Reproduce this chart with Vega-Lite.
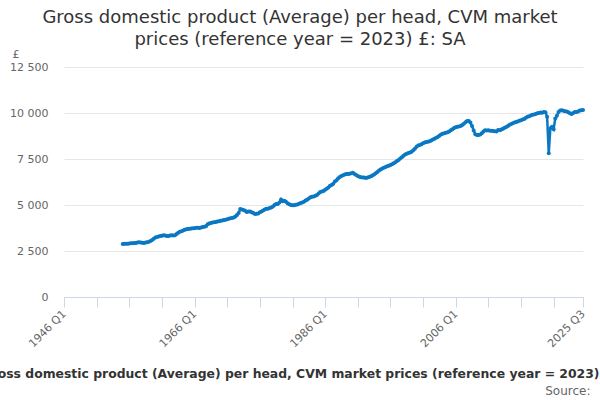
{
"$schema": "https://vega.github.io/schema/vega-lite/v6.json",
"width": 519,
"height": 230,
"autosize": "none",
"padding": {"left": 64, "top": 67, "right": 17, "bottom": 103},
"background": "white",
"title": {"text": ["Gross domestic product (Average) per head, CVM market", "prices (reference year = 2023) £: SA"], "font": "DejaVu Sans", "fontSize": 18, "fontWeight": "normal", "color": "#333333", "anchor": "middle", "frame": "group", "dx": -23.5, "lineHeight": 22, "offset": -1},
"data": {"values": [
{"quarter":"1955-01-01","value":2880},{"quarter":"1955-04-01","value":2890},{"quarter":"1955-07-01","value":2900},{"quarter":"1955-10-01","value":2900},
{"quarter":"1956-01-01","value":2910},{"quarter":"1956-04-01","value":2920},{"quarter":"1956-07-01","value":2920},{"quarter":"1956-10-01","value":2930},
{"quarter":"1957-01-01","value":2940},{"quarter":"1957-04-01","value":2960},{"quarter":"1957-07-01","value":2970},{"quarter":"1957-10-01","value":2960},
{"quarter":"1958-01-01","value":2950},{"quarter":"1958-04-01","value":2940},{"quarter":"1958-07-01","value":2960},{"quarter":"1958-10-01","value":2980},
{"quarter":"1959-01-01","value":3000},{"quarter":"1959-04-01","value":3040},{"quarter":"1959-07-01","value":3100},{"quarter":"1959-10-01","value":3170},
{"quarter":"1960-01-01","value":3230},{"quarter":"1960-04-01","value":3260},{"quarter":"1960-07-01","value":3290},{"quarter":"1960-10-01","value":3310},
{"quarter":"1961-01-01","value":3330},{"quarter":"1961-04-01","value":3350},{"quarter":"1961-07-01","value":3340},{"quarter":"1961-10-01","value":3320},
{"quarter":"1962-01-01","value":3320},{"quarter":"1962-04-01","value":3340},{"quarter":"1962-07-01","value":3350},{"quarter":"1962-10-01","value":3340},
{"quarter":"1963-01-01","value":3350},{"quarter":"1963-04-01","value":3420},{"quarter":"1963-07-01","value":3490},{"quarter":"1963-10-01","value":3550},
{"quarter":"1964-01-01","value":3580},{"quarter":"1964-04-01","value":3620},{"quarter":"1964-07-01","value":3650},{"quarter":"1964-10-01","value":3680},
{"quarter":"1965-01-01","value":3700},{"quarter":"1965-04-01","value":3710},{"quarter":"1965-07-01","value":3720},{"quarter":"1965-10-01","value":3730},
{"quarter":"1966-01-01","value":3740},{"quarter":"1966-04-01","value":3760},{"quarter":"1966-07-01","value":3760},{"quarter":"1966-10-01","value":3750},
{"quarter":"1967-01-01","value":3780},{"quarter":"1967-04-01","value":3800},{"quarter":"1967-07-01","value":3820},{"quarter":"1967-10-01","value":3840},
{"quarter":"1968-01-01","value":3960},{"quarter":"1968-04-01","value":3990},{"quarter":"1968-07-01","value":4020},{"quarter":"1968-10-01","value":4050},
{"quarter":"1969-01-01","value":4060},{"quarter":"1969-04-01","value":4080},{"quarter":"1969-07-01","value":4100},{"quarter":"1969-10-01","value":4120},
{"quarter":"1970-01-01","value":4140},{"quarter":"1970-04-01","value":4160},{"quarter":"1970-07-01","value":4190},{"quarter":"1970-10-01","value":4200},
{"quarter":"1971-01-01","value":4220},{"quarter":"1971-04-01","value":4250},{"quarter":"1971-07-01","value":4280},{"quarter":"1971-10-01","value":4300},
{"quarter":"1972-01-01","value":4320},{"quarter":"1972-04-01","value":4380},{"quarter":"1972-07-01","value":4450},{"quarter":"1972-10-01","value":4560},
{"quarter":"1973-01-01","value":4780},{"quarter":"1973-04-01","value":4750},{"quarter":"1973-07-01","value":4730},{"quarter":"1973-10-01","value":4690},
{"quarter":"1974-01-01","value":4620},{"quarter":"1974-04-01","value":4650},{"quarter":"1974-07-01","value":4640},{"quarter":"1974-10-01","value":4600},
{"quarter":"1975-01-01","value":4570},{"quarter":"1975-04-01","value":4510},{"quarter":"1975-07-01","value":4520},{"quarter":"1975-10-01","value":4540},
{"quarter":"1976-01-01","value":4600},{"quarter":"1976-04-01","value":4650},{"quarter":"1976-07-01","value":4700},{"quarter":"1976-10-01","value":4760},
{"quarter":"1977-01-01","value":4790},{"quarter":"1977-04-01","value":4800},{"quarter":"1977-07-01","value":4840},{"quarter":"1977-10-01","value":4870},
{"quarter":"1978-01-01","value":4920},{"quarter":"1978-04-01","value":5000},{"quarter":"1978-07-01","value":5050},{"quarter":"1978-10-01","value":5060},
{"quarter":"1979-01-01","value":5130},{"quarter":"1979-04-01","value":5300},{"quarter":"1979-07-01","value":5210},{"quarter":"1979-10-01","value":5230},
{"quarter":"1980-01-01","value":5170},{"quarter":"1980-04-01","value":5090},{"quarter":"1980-07-01","value":5040},{"quarter":"1980-10-01","value":5000},
{"quarter":"1981-01-01","value":4990},{"quarter":"1981-04-01","value":4990},{"quarter":"1981-07-01","value":5010},{"quarter":"1981-10-01","value":5030},
{"quarter":"1982-01-01","value":5070},{"quarter":"1982-04-01","value":5110},{"quarter":"1982-07-01","value":5140},{"quarter":"1982-10-01","value":5170},
{"quarter":"1983-01-01","value":5250},{"quarter":"1983-04-01","value":5290},{"quarter":"1983-07-01","value":5350},{"quarter":"1983-10-01","value":5420},
{"quarter":"1984-01-01","value":5450},{"quarter":"1984-04-01","value":5460},{"quarter":"1984-07-01","value":5500},{"quarter":"1984-10-01","value":5550},
{"quarter":"1985-01-01","value":5620},{"quarter":"1985-04-01","value":5700},{"quarter":"1985-07-01","value":5730},{"quarter":"1985-10-01","value":5760},
{"quarter":"1986-01-01","value":5830},{"quarter":"1986-04-01","value":5880},{"quarter":"1986-07-01","value":5950},{"quarter":"1986-10-01","value":6040},
{"quarter":"1987-01-01","value":6090},{"quarter":"1987-04-01","value":6160},{"quarter":"1987-07-01","value":6280},{"quarter":"1987-10-01","value":6350},
{"quarter":"1988-01-01","value":6450},{"quarter":"1988-04-01","value":6520},{"quarter":"1988-07-01","value":6580},{"quarter":"1988-10-01","value":6620},
{"quarter":"1989-01-01","value":6660},{"quarter":"1989-04-01","value":6680},{"quarter":"1989-07-01","value":6690},{"quarter":"1989-10-01","value":6700},
{"quarter":"1990-01-01","value":6720},{"quarter":"1990-04-01","value":6750},{"quarter":"1990-07-01","value":6690},{"quarter":"1990-10-01","value":6630},
{"quarter":"1991-01-01","value":6570},{"quarter":"1991-04-01","value":6530},{"quarter":"1991-07-01","value":6510},{"quarter":"1991-10-01","value":6500},
{"quarter":"1992-01-01","value":6490},{"quarter":"1992-04-01","value":6470},{"quarter":"1992-07-01","value":6490},{"quarter":"1992-10-01","value":6520},
{"quarter":"1993-01-01","value":6560},{"quarter":"1993-04-01","value":6600},{"quarter":"1993-07-01","value":6660},{"quarter":"1993-10-01","value":6720},
{"quarter":"1994-01-01","value":6800},{"quarter":"1994-04-01","value":6880},{"quarter":"1994-07-01","value":6930},{"quarter":"1994-10-01","value":6980},
{"quarter":"1995-01-01","value":7020},{"quarter":"1995-04-01","value":7060},{"quarter":"1995-07-01","value":7100},{"quarter":"1995-10-01","value":7130},
{"quarter":"1996-01-01","value":7170},{"quarter":"1996-04-01","value":7220},{"quarter":"1996-07-01","value":7270},{"quarter":"1996-10-01","value":7330},
{"quarter":"1997-01-01","value":7390},{"quarter":"1997-04-01","value":7450},{"quarter":"1997-07-01","value":7530},{"quarter":"1997-10-01","value":7600},
{"quarter":"1998-01-01","value":7680},{"quarter":"1998-04-01","value":7740},{"quarter":"1998-07-01","value":7790},{"quarter":"1998-10-01","value":7830},
{"quarter":"1999-01-01","value":7860},{"quarter":"1999-04-01","value":7900},{"quarter":"1999-07-01","value":7980},{"quarter":"1999-10-01","value":8060},
{"quarter":"2000-01-01","value":8160},{"quarter":"2000-04-01","value":8230},{"quarter":"2000-07-01","value":8260},{"quarter":"2000-10-01","value":8300},
{"quarter":"2001-01-01","value":8350},{"quarter":"2001-04-01","value":8390},{"quarter":"2001-07-01","value":8420},{"quarter":"2001-10-01","value":8440},
{"quarter":"2002-01-01","value":8470},{"quarter":"2002-04-01","value":8510},{"quarter":"2002-07-01","value":8560},{"quarter":"2002-10-01","value":8600},
{"quarter":"2003-01-01","value":8650},{"quarter":"2003-04-01","value":8700},{"quarter":"2003-07-01","value":8770},{"quarter":"2003-10-01","value":8830},
{"quarter":"2004-01-01","value":8870},{"quarter":"2004-04-01","value":8900},{"quarter":"2004-07-01","value":8930},{"quarter":"2004-10-01","value":8960},
{"quarter":"2005-01-01","value":9000},{"quarter":"2005-04-01","value":9060},{"quarter":"2005-07-01","value":9120},{"quarter":"2005-10-01","value":9180},
{"quarter":"2006-01-01","value":9230},{"quarter":"2006-04-01","value":9250},{"quarter":"2006-07-01","value":9260},{"quarter":"2006-10-01","value":9300},
{"quarter":"2007-01-01","value":9350},{"quarter":"2007-04-01","value":9420},{"quarter":"2007-07-01","value":9500},{"quarter":"2007-10-01","value":9560},
{"quarter":"2008-01-01","value":9560},{"quarter":"2008-04-01","value":9480},{"quarter":"2008-07-01","value":9300},{"quarter":"2008-10-01","value":9050},
{"quarter":"2009-01-01","value":8850},{"quarter":"2009-04-01","value":8810},{"quarter":"2009-07-01","value":8800},{"quarter":"2009-10-01","value":8830},
{"quarter":"2010-01-01","value":8900},{"quarter":"2010-04-01","value":9000},{"quarter":"2010-07-01","value":9060},{"quarter":"2010-10-01","value":9050},
{"quarter":"2011-01-01","value":9060},{"quarter":"2011-04-01","value":9040},{"quarter":"2011-07-01","value":9040},{"quarter":"2011-10-01","value":9020},
{"quarter":"2012-01-01","value":9010},{"quarter":"2012-04-01","value":9000},{"quarter":"2012-07-01","value":9080},{"quarter":"2012-10-01","value":9060},
{"quarter":"2013-01-01","value":9100},{"quarter":"2013-04-01","value":9140},{"quarter":"2013-07-01","value":9200},{"quarter":"2013-10-01","value":9240},
{"quarter":"2014-01-01","value":9300},{"quarter":"2014-04-01","value":9360},{"quarter":"2014-07-01","value":9400},{"quarter":"2014-10-01","value":9440},
{"quarter":"2015-01-01","value":9480},{"quarter":"2015-04-01","value":9510},{"quarter":"2015-07-01","value":9540},{"quarter":"2015-10-01","value":9580},
{"quarter":"2016-01-01","value":9610},{"quarter":"2016-04-01","value":9640},{"quarter":"2016-07-01","value":9680},{"quarter":"2016-10-01","value":9740},
{"quarter":"2017-01-01","value":9790},{"quarter":"2017-04-01","value":9830},{"quarter":"2017-07-01","value":9870},{"quarter":"2017-10-01","value":9900},
{"quarter":"2018-01-01","value":9920},{"quarter":"2018-04-01","value":9950},{"quarter":"2018-07-01","value":9990},{"quarter":"2018-10-01","value":10000},
{"quarter":"2019-01-01","value":10030},{"quarter":"2019-04-01","value":10010},{"quarter":"2019-07-01","value":10060},{"quarter":"2019-10-01","value":10040},
{"quarter":"2020-01-01","value":9800},{"quarter":"2020-04-01","value":7810},{"quarter":"2020-07-01","value":9170},{"quarter":"2020-10-01","value":9250},
{"quarter":"2021-01-01","value":9120},{"quarter":"2021-04-01","value":9700},{"quarter":"2021-07-01","value":9850},{"quarter":"2021-10-01","value":10050},
{"quarter":"2022-01-01","value":10130},{"quarter":"2022-04-01","value":10150},{"quarter":"2022-07-01","value":10120},{"quarter":"2022-10-01","value":10100},
{"quarter":"2023-01-01","value":10080},{"quarter":"2023-04-01","value":10040},{"quarter":"2023-07-01","value":9980},{"quarter":"2023-10-01","value":9940},
{"quarter":"2024-01-01","value":10000},{"quarter":"2024-04-01","value":10050},{"quarter":"2024-07-01","value":10060},{"quarter":"2024-10-01","value":10080},
{"quarter":"2025-01-01","value":10140},{"quarter":"2025-04-01","value":10150},{"quarter":"2025-07-01","value":10160}
]},
"mark": {"type": "line", "strokeWidth": 2.5, "point": {"filled": true, "size": 16}},
"encoding": {
  "x": {"field": "quarter", "type": "temporal",
    "scale": {"type": "utc", "domain": [{"year": 1946, "month": 1, "date": 1, "utc": true}, {"year": 2025, "month": 7, "date": 1, "utc": true}]},
    "axis": {
      "values": [{"year":1946,"month":1,"date":1,"utc":true},{"year":1951,"month":1,"date":1,"utc":true},{"year":1956,"month":1,"date":1,"utc":true},{"year":1961,"month":1,"date":1,"utc":true},{"year":1966,"month":1,"date":1,"utc":true},{"year":1971,"month":1,"date":1,"utc":true},{"year":1976,"month":1,"date":1,"utc":true},{"year":1981,"month":1,"date":1,"utc":true},{"year":1986,"month":1,"date":1,"utc":true},{"year":1991,"month":1,"date":1,"utc":true},{"year":1996,"month":1,"date":1,"utc":true},{"year":2001,"month":1,"date":1,"utc":true},{"year":2006,"month":1,"date":1,"utc":true},{"year":2011,"month":1,"date":1,"utc":true},{"year":2016,"month":1,"date":1,"utc":true},{"year":2021,"month":1,"date":1,"utc":true},{"year":2025,"month":7,"date":1,"utc":true}],
      "labelExpr": "((utcyear(datum.value) - 1946) % 20 == 0 || utcyear(datum.value) == 2025) ? utcFormat(datum.value, '%Y') + ' Q' + (floor(utcmonth(datum.value) / 3) + 1) : ''",
      "grid": false,
      "domainColor": "#ccd6eb",
      "tickColor": "#ccd6eb",
      "tickSize": 10,
      "labelAngle": -45,
      "labelAlign": "right",
      "labelBaseline": "middle",
      "labelPadding": 5,
      "labelFont": "DejaVu Sans",
      "labelFontSize": 11,
      "labelColor": "#666666",
      "labelOverlap": false,
      "labelFlush": false,
      "title": "Source:",
      "titleFont": "DejaVu Sans",
      "titleFontSize": 12,
      "titleFontWeight": "normal",
      "titleColor": "#666666",
      "titleAlign": "right",
      "titleBaseline": "alphabetic",
      "titleX": 526,
      "titleY": 97
    }
  },
  "y": {"field": "value", "type": "quantitative",
    "scale": {"domain": [0, 12500]},
    "axis": {
      "values": [0, 2500, 5000, 7500, 10000, 12500],
      "labelExpr": "replace(format(datum.value, ','), ',', ' ')",
      "labelFont": "DejaVu Sans",
      "labelFontSize": 11,
      "labelColor": "#666666",
      "labelPadding": 16,
      "domain": false,
      "ticks": false,
      "tickSize": 0,
      "gridColor": "#e6e6e6",
      "title": "£",
      "titleFont": "DejaVu Sans",
      "titleFontSize": 11,
      "titleFontWeight": "normal",
      "titleColor": "#666666",
      "titleAngle": 0,
      "titleAlign": "left",
      "titleBaseline": "alphabetic",
      "titleX": -52,
      "titleY": -10
    }
  },
  "color": {"datum": "Gross domestic product (Average) per head, CVM market prices (reference year = 2023)",
    "scale": {"range": ["#0a78c2"]},
    "legend": {"orient": "none", "legendX": -95, "legendY": 301, "title": null, "labelFont": "DejaVu Sans", "labelFontSize": 12.4, "labelFontWeight": "bold", "labelColor": "#333333", "labelLimit": 2000, "symbolOpacity": 0, "symbolSize": 1, "labelOffset": 0, "padding": 0}
  }
},
"config": {"view": {"stroke": null}, "font": "DejaVu Sans"}
}
